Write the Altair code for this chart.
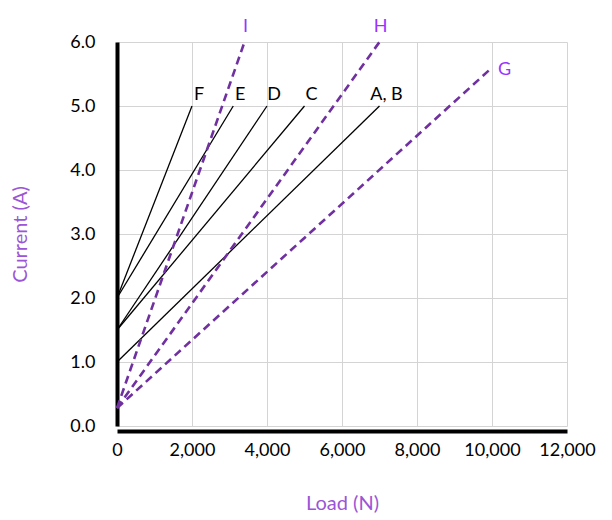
import altair as alt
import pandas as pd

# Solid (black) series
solid_names = ["A, B", "C", "D", "E", "F"]
solid_load0 = [0, 0, 0, 0, 0]
solid_cur0 = [1.0, 1.5, 1.5, 2.0, 2.0]
solid_load1 = [7000, 5000, 4000, 3100, 2000]
solid_cur1 = [5.0, 5.0, 5.0, 5.0, 5.0]

# Dashed (purple) series
dashed_names = ["G", "H", "I"]
dashed_load0 = [0, 0, 0]
dashed_cur0 = [0.28, 0.28, 0.28]
dashed_load1 = [10000, 7000, 3400]
dashed_cur1 = [5.6, 6.0, 6.0]

x_ticks = [0, 2000, 4000, 6000, 8000, 10000, 12000]
y_ticks = [0.0, 1.0, 2.0, 3.0, 4.0, 5.0, 6.0]

FONT = "Lato"

def long_df(names, x0, y0, x1, y1):
    rows = []
    for n, a, b, c, d in zip(names, x0, y0, x1, y1):
        rows.append({"series": n, "load": a, "current": b})
        rows.append({"series": n, "load": c, "current": d})
    return pd.DataFrame(rows)

solid_df = long_df(solid_names, solid_load0, solid_cur0, solid_load1, solid_cur1)
dashed_df = long_df(dashed_names, dashed_load0, dashed_cur0, dashed_load1, dashed_cur1)

solid_end = pd.DataFrame({"series": solid_names, "load": solid_load1, "current": solid_cur1})
dashed_end = pd.DataFrame({"series": dashed_names, "load": dashed_load1, "current": dashed_cur1})

xscale = alt.Scale(domain=[0, 12000], nice=False)
yscale = alt.Scale(domain=[0, 6], nice=False)

xaxis = alt.Axis(
    title="Load (N)", values=x_ticks, format=",.0f", ticks=False,
    domainColor="black", domainWidth=4, offset=5,
    labelPadding=10, labelFontSize=18, labelFont=FONT, labelColor="black",
    titleFontSize=20, titleFont=FONT, titleFontWeight="normal", titleColor="#9B55D6",
    titleY=72, titleBaseline="middle", labelFlush=False,
)
yaxis = alt.Axis(
    title="Current (A)", values=y_ticks, format=".1f", ticks=False,
    domainColor="black", domainWidth=4,
    labelPadding=22, labelFontSize=18, labelFont=FONT, labelColor="black",
    titleFontSize=20, titleFont=FONT, titleFontWeight="normal", titleColor="#9B55D6",
    titleX=-97, titleY=192, titleAngle=270, titleAlign="center", titleBaseline="middle",
)

base_x = alt.X("load:Q", scale=xscale, axis=xaxis)
base_y = alt.Y("current:Q", scale=yscale, axis=yaxis)

solid = alt.Chart(solid_df).mark_line(color="black", strokeWidth=1.3).encode(
    x=base_x, y=base_y, detail="series:N"
)
dashed = alt.Chart(dashed_df).mark_line(
    color="#7030A0", strokeWidth=2.6, strokeDash=[8, 5]
).encode(x="load:Q", y="current:Q", detail="series:N")

solid_lbl = alt.Chart(solid_end).mark_text(
    align="center", baseline="middle", dx=7, dy=-11, fontSize=18, font=FONT, color="black"
).encode(x="load:Q", y="current:Q", text="series:N")

top_lbl = alt.Chart(dashed_end).transform_filter(
    alt.FieldOneOfPredicate(field="series", oneOf=["H", "I"])
).mark_text(
    align="center", baseline="middle", dx=1, dy=-15, fontSize=18, font=FONT, color="#9933FF"
).encode(x="load:Q", y="current:Q", text="series:N")

g_lbl = alt.Chart(dashed_end).transform_filter(
    alt.FieldEqualPredicate(field="series", equal="G")
).mark_text(
    align="left", baseline="middle", dx=6, dy=2, fontSize=18, font=FONT, color="#9933FF"
).encode(x="load:Q", y="current:Q", text="series:N")

chart = alt.layer(solid, dashed, solid_lbl, top_lbl, g_lbl).properties(
    width=450, height=384,
    autosize=alt.AutoSizeParams(type="none"),
    padding={"left": 109, "top": 34, "right": 37, "bottom": 90},
).configure_view(stroke=None).configure_axis(
    gridColor="#D4D4D4", gridWidth=1
)

chart.save("out.html", embed_options={"renderer": "svg", "actions": False})
